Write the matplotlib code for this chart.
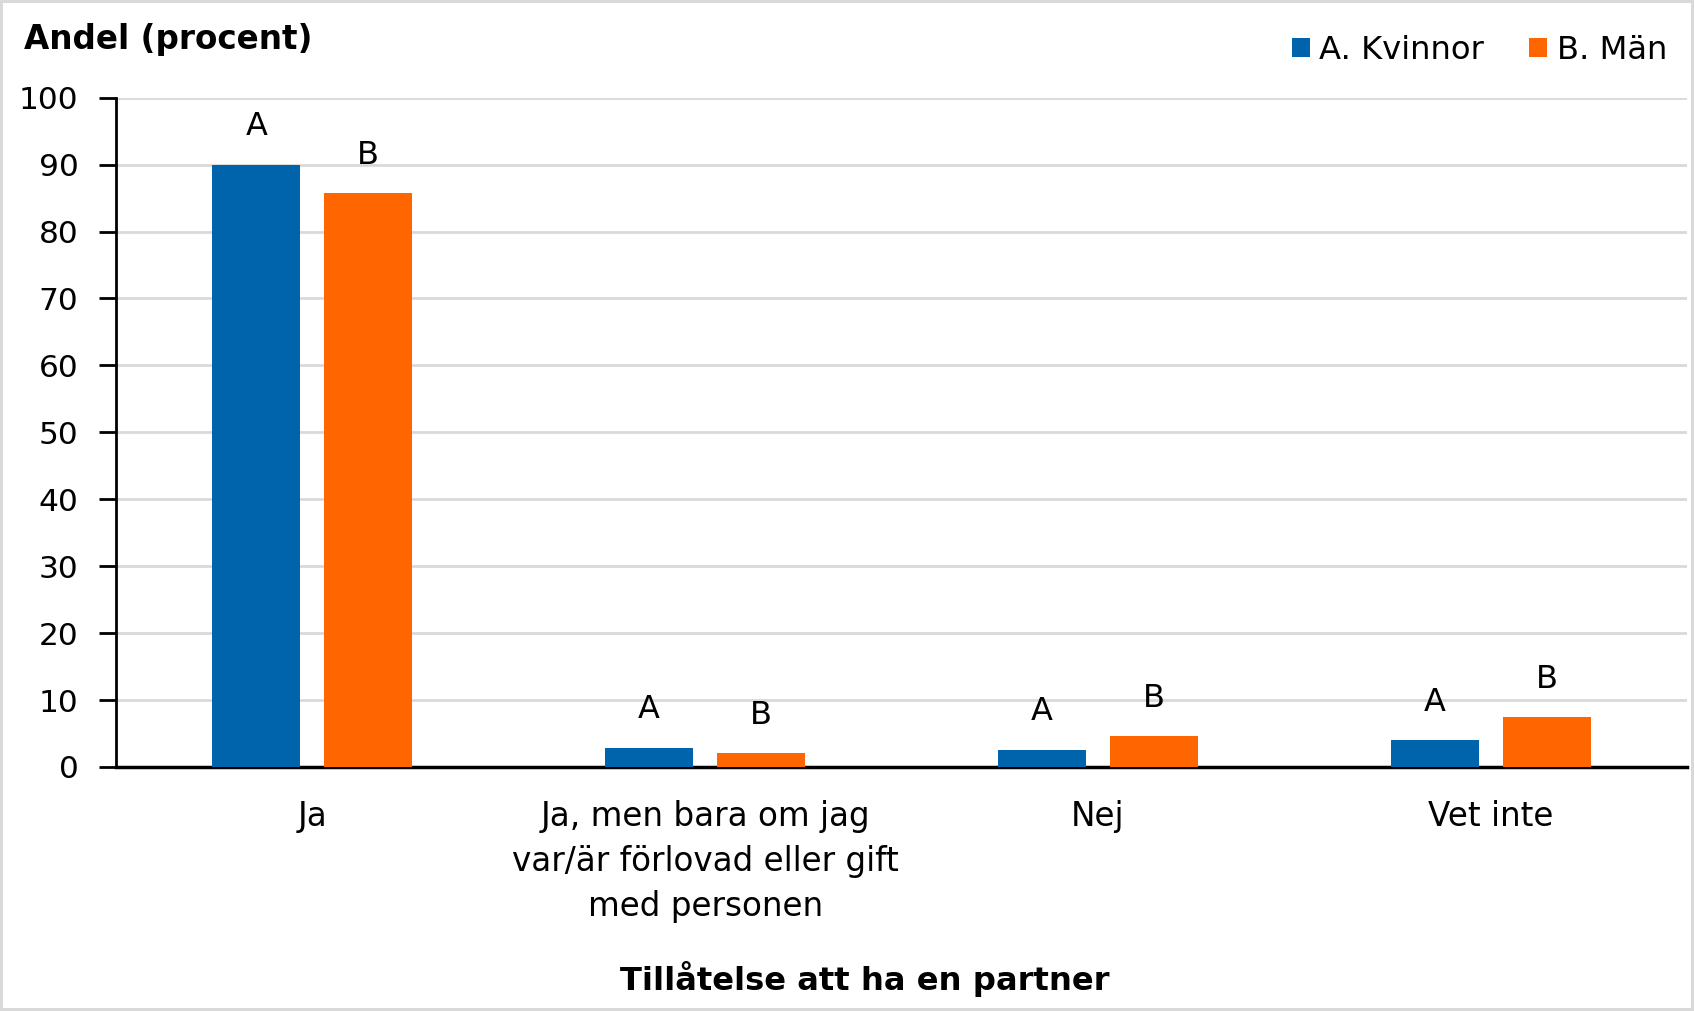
import numpy as np
import matplotlib
matplotlib.use("Agg")
import matplotlib.pyplot as plt

# ── data ──
categories = ['Ja', 'Ja, men bara om jag\nvar/är förlovad eller gift\nmed personen', 'Nej', 'Vet inte']
kvinnor = [90.0, 2.9, 2.6, 4.0]
man     = [85.8, 2.1, 4.6, 7.4]
series_names = ['A. Kvinnor', 'B. Män']
series_tags  = ['A', 'B']
C_BLUE, C_ORANGE = '#0064AD', '#FF6600'

W, H = 1694, 1011
fig = plt.figure(figsize=(W/100, H/100), dpi=100)
fig.patch.set_edgecolor('#d9d9d9'); fig.patch.set_linewidth(3)
ax = fig.add_axes([116/W, 1-767/H, (1687-116)/W, (767-97.7)/H])

x = np.arange(len(categories))
bw, off = 0.224, 0.1425
for vals, dx, col, tag, name in [(kvinnor, -off, C_BLUE, 'A', series_names[0]),
                                  (man, off, C_ORANGE, 'B', series_names[1])]:
    bars = ax.bar(x + dx, vals, bw, color=col, label=name, zorder=3)
    for b, v in zip(bars, vals):
        ax.annotate(tag, (b.get_x() + b.get_width()/2, v), xytext=(0, 21),
                    textcoords='offset points', ha='center', va='baseline', fontsize=23)

ax.set_xlim(-0.5, len(categories) - 0.5)
ax.set_ylim(0, 100)
ax.set_yticks(range(0, 101, 10))
ax.grid(axis='y', color='#d9d9d9', lw=2, zorder=0)
ax.set_axisbelow(True)
for s in ['top', 'right']:
    ax.spines[s].set_visible(False)
ax.spines['left'].set_linewidth(2)
ax.spines['bottom'].set_linewidth(2.5)
ax.tick_params(axis='y', length=12, width=2, labelsize=22.5, pad=15, direction='out')
ax.tick_params(axis='x', length=0, labelsize=23.5, pad=24)
ax.set_xticks(x)
ax.set_xticklabels(categories, linespacing=1.45)

fig.text(24/W, 1-40/H, 'Andel (procent)', fontsize=23.5, fontweight='bold', va='center')
fig.text(865/W, 1-979/H, 'Tillåtelse att ha en partner', fontsize=23.2,
         fontweight='bold', ha='center', va='center')
ax.legend(loc='upper right', bbox_to_anchor=(1680/W, 1-22/H), bbox_transform=fig.transFigure,
          ncol=2, frameon=False, fontsize=23.2, handlelength=0.55, handleheight=0.55,
          handletextpad=0.3, columnspacing=1.4, borderaxespad=0)

fig.savefig('out.png', dpi=100)
